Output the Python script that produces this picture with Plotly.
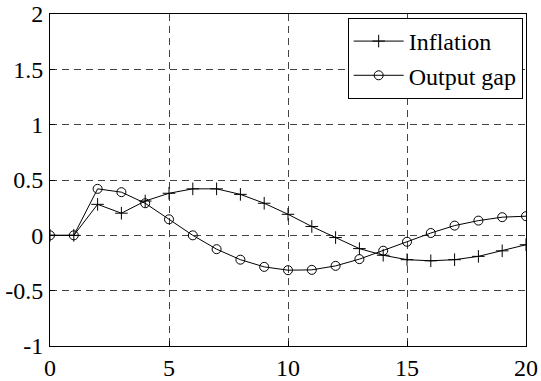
import plotly.graph_objects as go

# Impulse responses over 20 periods
periods = list(range(21))
inflation = [0.0, 0.0, 0.28, 0.20, 0.31, 0.38, 0.42, 0.42, 0.37, 0.29, 0.19,
             0.08, -0.02, -0.12, -0.18, -0.22, -0.23, -0.22, -0.19, -0.14, -0.085]
output_gap = [0.0, 0.0, 0.42, 0.39, 0.29, 0.145, 0.0, -0.125, -0.22, -0.285, -0.315,
              -0.312, -0.276, -0.215, -0.139, -0.058, 0.021, 0.088, 0.133, 0.164, 0.173]

x_ticks = [0, 5, 10, 15, 20]
y_ticks = [-1, -0.5, 0, 0.5, 1, 1.5, 2]
y_tick_text = ["-1", "-0.5", "0", "0.5", "1", "1.5", "2"]

FONT = "Liberation Serif"

fig = go.Figure()
fig.add_trace(go.Scatter(
    x=periods, y=inflation, name="Inflation", mode="lines+markers",
    line=dict(color="black", width=1),
    marker=dict(symbol="cross-thin", size=9, line=dict(color="black", width=1)),
))
fig.add_trace(go.Scatter(
    x=periods, y=output_gap, name="Output gap", mode="lines+markers",
    line=dict(color="black", width=1),
    marker=dict(symbol="circle-open", size=9, color="black", line=dict(color="black", width=1)),
))

axis_common = dict(
    showline=True, mirror=True, linecolor="black", linewidth=1,
    showgrid=True, gridcolor="#444444", gridwidth=1, griddash="7px,5px",
    zeroline=False, ticks="inside", ticklen=5, tickcolor="black",
    tickfont=dict(family=FONT, size=24, color="black"),
    automargin=False,
)

fig.update_xaxes(range=[0, 20], tickvals=x_ticks, ticklabelstandoff=0, **axis_common)
fig.update_yaxes(range=[-1, 2], tickvals=y_ticks, ticktext=y_tick_text,
                 ticklabelstandoff=1, **axis_common)

fig.update_layout(
    width=541, height=381,
    margin=dict(l=50, r=15, t=14, b=35),
    paper_bgcolor="white", plot_bgcolor="white",
    font=dict(family=FONT, size=24, color="black"),
    legend=dict(
        x=0.993, y=0.988, xanchor="right", yanchor="top",
        bgcolor="white", bordercolor="black", borderwidth=1,
        font=dict(family=FONT, size=24, color="black"),
        tracegroupgap=0, itemwidth=50,
    ),
    showlegend=True,
)

fig.write_html("out.html")
